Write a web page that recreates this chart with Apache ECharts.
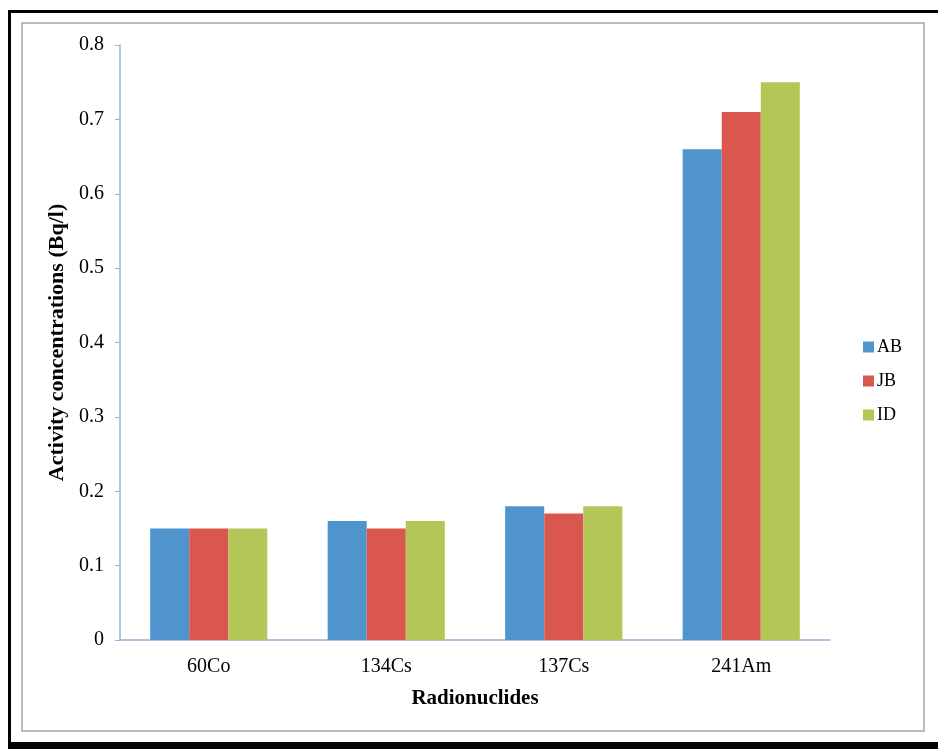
<!DOCTYPE html>
<html>
<head>
<meta charset="utf-8">
<script src="https://cdn.jsdelivr.net/npm/echarts@6/dist/echarts.min.js"></script>
<style>
  html, body { margin: 0; padding: 0; background: #fff; }
  #chart { width: 938px; height: 749px; }
</style>
</head>
<body>
<div id="chart"></div>
<script>
var categories = ['60Co', '134Cs', '137Cs', '241Am'];
var abValues = [0.15, 0.16, 0.18, 0.66];
var jbValues = [0.15, 0.15, 0.17, 0.71];
var idValues = [0.15, 0.16, 0.18, 0.75];
var seriesNames = ['AB', 'JB', 'ID'];
var colors = ['#4f94cd', '#d9574f', '#b5c659'];

var myChart = echarts.init(document.getElementById('chart'));
var font = 'Liberation Serif, Times New Roman, serif';

function bar(name, data, color) {
  return {
    name: name,
    type: 'bar',
    data: data,
    barGap: '0%',
    barCategoryGap: '34%',
    itemStyle: { color: color }
  }
}

var option = {
  backgroundColor: '#fff',
  textStyle: { fontFamily: font },
  graphic: [
    // outer black frame
    { type: 'rect', shape: { x: 8, y: 10, width: 940, height: 3 }, style: { fill: '#000' } },
    { type: 'rect', shape: { x: 8, y: 10, width: 3, height: 739 }, style: { fill: '#000' } },
    { type: 'rect', shape: { x: 8, y: 742, width: 930, height: 7 }, style: { fill: '#000' } },
    // inner chart area frame
    { type: 'rect', shape: { x: 22, y: 23, width: 902, height: 708 },
      style: { fill: 'none', stroke: '#a6a6a6', lineWidth: 1.5 } }
  ],
  legend: {
    orient: 'vertical',
    left: 858,
    top: 333,
    itemWidth: 11,
    itemHeight: 11,
    itemGap: 16,
    icon: 'rect',
    textStyle: { fontFamily: font, fontSize: 18, color: '#000', padding: [0, 0, 0, -2] },
    data: seriesNames
  },
  grid: { left: 120, right: 108, top: 45, bottom: 109, containLabel: false },
  xAxis: {
    type: 'category',
    data: categories,
    name: 'Radionuclides',
    nameLocation: 'middle',
    nameGap: 48,
    nameTextStyle: { fontFamily: font, fontWeight: 'bold', fontSize: 21, color: '#000' },
    axisLine: { lineStyle: { color: '#93b3d3', width: 1.5 } },
    axisTick: { show: false },
    axisLabel: { fontFamily: font, fontSize: 20, color: '#000', margin: 17 }
  },
  yAxis: {
    type: 'value',
    min: 0,
    max: 0.8,
    interval: 0.1,
    name: 'Activity concentrations (Bq/l)',
    nameLocation: 'middle',
    nameGap: 51,
    nameTextStyle: { fontFamily: font, fontWeight: 'bold', fontSize: 22, color: '#000' },
    axisLine: { show: true, lineStyle: { color: '#93b3d3', width: 1.5 } },
    axisTick: { show: true, length: 5, lineStyle: { color: '#93b3d3' } },
    splitLine: { show: false },
    axisLabel: { fontFamily: font, fontSize: 20, color: '#000', margin: 16 }
  },
  series: [
    bar(seriesNames[0], abValues, colors[0]),
    bar(seriesNames[1], jbValues, colors[1]),
    bar(seriesNames[2], idValues, colors[2])
  ]
};

myChart.clear();
myChart.setOption(option);
window.addEventListener('resize', () => { myChart.resize() });
</script>
</body>
</html>
